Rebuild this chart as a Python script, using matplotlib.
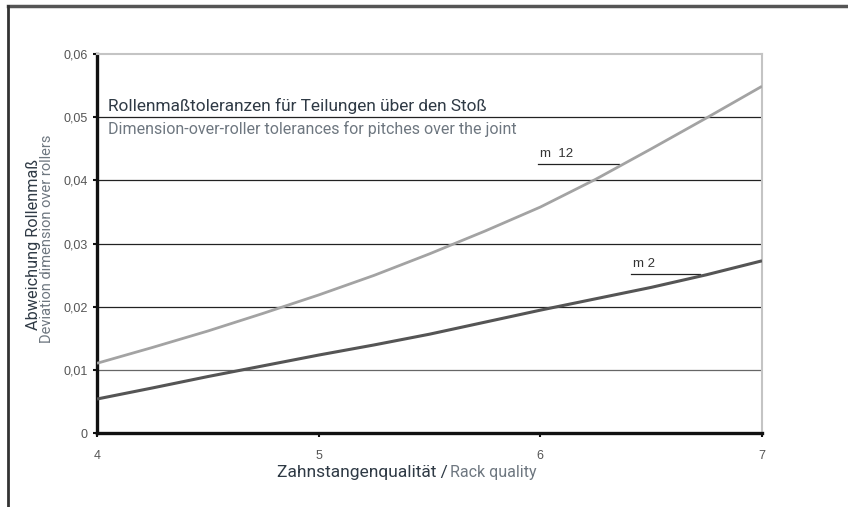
import matplotlib
matplotlib.use('Agg')
import matplotlib.pyplot as plt
from matplotlib.lines import Line2D
from matplotlib.ticker import FuncFormatter

# rack quality classes and roller dimension deviation per module
quality = [4, 4.25, 4.5, 4.75, 5, 5.25, 5.5, 5.75, 6, 6.25, 6.5, 6.75, 7]
dev_m12 = [0.0111, 0.0136, 0.0162, 0.0190, 0.0219, 0.0250, 0.0284,
           0.0320, 0.0358, 0.0402, 0.0450, 0.0499, 0.0549]
dev_m2 = [0.00545, 0.0072, 0.0090, 0.0107, 0.0124, 0.0140, 0.0157,
          0.0176, 0.0195, 0.0213, 0.0231, 0.0251, 0.0273]

yticks = [0, 0.01, 0.02, 0.03, 0.04, 0.05, 0.06]
xticks = [4, 5, 6, 7]

dark = '#2f3a45'
grey = '#6e7780'

fig = plt.figure(figsize=(8.48, 5.07), dpi=100)
ax = fig.add_axes([0.1144, 0.1450, 0.7842, 0.7485])
renderer = fig.canvas.get_renderer()


def fit_width(txt, px):
    # scale the font so the text spans the given number of pixels
    w = txt.get_window_extent(renderer).width
    txt.set_fontsize(txt.get_fontsize() * px / w)
    return txt


def fit_height(txt, px):
    h = txt.get_window_extent(renderer).height
    txt.set_fontsize(txt.get_fontsize() * px / h)
    return txt


ax.plot(quality, dev_m12, color='#a3a3a3', lw=2.0, solid_capstyle='butt', zorder=3)
ax.plot(quality, dev_m2, color='#555555', lw=2.2, solid_capstyle='butt', zorder=3)

ax.set_xlim(4, 7)
ax.set_ylim(0, 0.06)
ax.set_xticks(xticks)
ax.set_yticks(yticks)
ax.yaxis.set_major_formatter(FuncFormatter(lambda v, p: '0' if v == 0 else f'{v:.2f}'.replace('.', ',')))

for v in yticks[1:-1]:
    ax.axhline(v, color='#222222' if v > 0.01 else '#666666', lw=0.9, zorder=1)

for s in ['left', 'bottom']:
    ax.spines[s].set_color('#111111')
    ax.spines[s].set_linewidth(2.4)
for s in ['top', 'right']:
    ax.spines[s].set_color('#c4c4c4')
    ax.spines[s].set_linewidth(1.5)

ax.tick_params(axis='both', length=3, width=1.5, color='#111111',
               labelsize=9, labelcolor='#555555')
ax.tick_params(axis='x', pad=9)
for lbl in ax.get_xticklabels() + ax.get_yticklabels():
    lbl.set_family('Liberation Sans')

# chart heading inside the plot
t = ax.text(4.05, 0.0505, 'Rollenmaßtoleranzen für Teilungen über den Stoß',
            family='Roboto', fontsize=12, color=dark, va='bottom')
fit_width(t, 377)
t = ax.text(4.05, 0.0494, 'Dimension-over-roller tolerances for pitches over the joint',
            family='Roboto', fontsize=11, color=grey, va='top')
fit_width(t, 406)

# curve labels with leader lines
ax.text(6.0, 0.0432, 'm  12', family='Liberation Sans', fontsize=9.5, color='#333333', va='bottom')
ax.plot([5.99, 6.355], [0.04255, 0.04255], color='#222222', lw=0.9)
ax.text(6.42, 0.0258, 'm 2', family='Liberation Sans', fontsize=9.5, color='#333333', va='bottom')
ax.plot([6.407, 6.72], [0.02519, 0.02519], color='#222222', lw=0.9)

# axis titles, German in dark and English in grey
t = fig.text(0.0395, 0.5168, 'Abweichung Rollenmaß', rotation=90, family='Roboto',
             fontsize=12, color=dark, ha='center', va='center')
fit_height(t, 170)
t = fig.text(0.0550, 0.5286, 'Deviation dimension over rollers', rotation=90, family='Roboto',
             fontsize=10, color=grey, ha='center', va='center')
fit_height(t, 208)

t1 = fig.text(277 / 848, 0.069, 'Zahnstangenqualität /', family='Roboto',
              fontsize=12, color=dark, ha='left', va='center')
fit_width(t1, 170)
t2 = fig.text(450 / 848, 0.069, 'Rack quality', family='Roboto',
              fontsize=10, color=grey, ha='left', va='center')
fit_width(t2, 86)

# outer frame
fig.add_artist(Line2D([0.0095, 1.0], [0.989, 0.989], color='#555555', lw=2.5, transform=fig.transFigure))
fig.add_artist(Line2D([0.0095, 0.0095], [0.0, 0.989], color='#333333', lw=2.0, transform=fig.transFigure))

fig.savefig('out.png', dpi=100)
